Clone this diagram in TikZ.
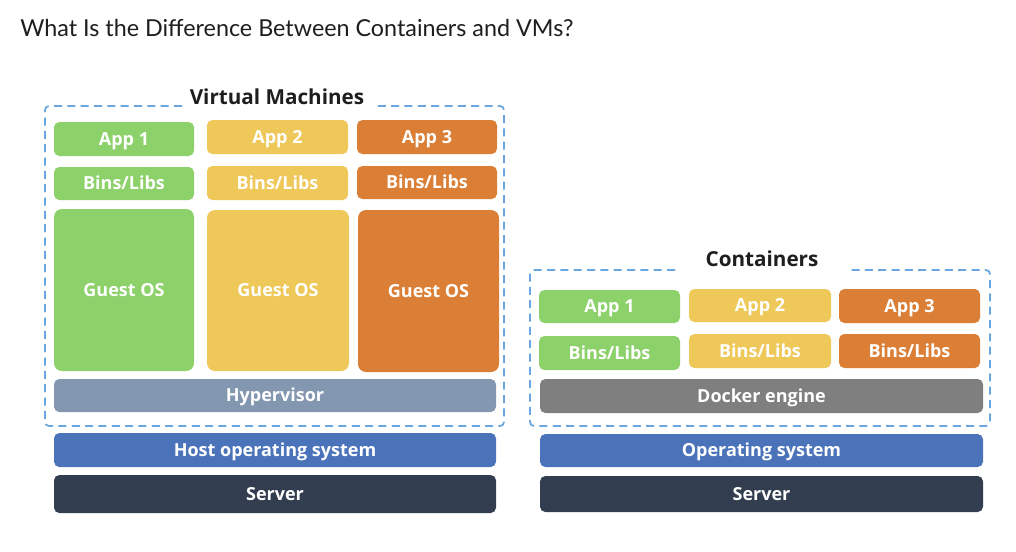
\documentclass[tikz,border=0pt]{standalone}
\usepackage{fontspec}
\setmainfont{Open Sans}
\newfontfamily\titlefont{Lato}
\definecolor{cgreen}{HTML}{8DD16B}
\definecolor{cyellow}{HTML}{EFC85A}
\definecolor{corange}{HTML}{DB7F36}
\definecolor{chyper}{HTML}{8497B0}
\definecolor{chost}{HTML}{4A73BA}
\definecolor{cserver}{HTML}{323E4F}
\definecolor{cdocker}{HTML}{7F7F7F}
\definecolor{cdash}{HTML}{6AA6E0}
\definecolor{ctitle}{HTML}{1E1E1E}
\newcommand\mkbox[8][4pt]{%
  \fill[#7,rounded corners=#1] (#3,#4) rectangle (#5,#6);
  \node[blk] (#2) at ({(#3+#5)/2},{(#4+#6)/2+2.5}) {#8};}
\begin{document}
\begin{tikzpicture}[x=0.75pt,y=-0.75pt,
  blk/.style={anchor=mid, inner sep=0pt, text=white, font=\bfseries\fontsize{13.5}{15}\selectfont},
  frame/.style={draw=cdash, line width=1.3pt, dash pattern=on 6pt off 4pt, rounded corners=3pt},
  head/.style={font=\bfseries\fontsize{15.5}{18}\selectfont, text=ctitle}]
\useasboundingbox[fill=white] (0,0) rectangle (1016,551);
\node[anchor=base west, font=\titlefont\fontsize{17.5}{20}\selectfont, text=ctitle, inner sep=0pt] (title) at (20,36) {What Is the Difference Between Containers and VMs?};
% VM frame
\draw[frame] (182,106) -- (45,106) -- (45,426) -- (504,426) -- (504,106) -- (375,106);
\node[head] (vmt) at (277,97) {Virtual Machines};
\mkbox{va1}{54}{122}{194}{156}{cgreen}{App 1}
\mkbox{va2}{207}{120}{348}{154}{cyellow}{App 2}
\mkbox{va3}{357}{120}{497}{154}{corange}{App 3}
\mkbox{vb1}{54}{167}{194}{200}{cgreen}{Bins/Libs}
\mkbox{vb2}{207}{166}{348}{200}{cyellow}{Bins/Libs}
\mkbox{vb3}{357}{166}{497}{199}{corange}{Bins/Libs}
\mkbox[6pt]{vg1}{54}{209}{194}{371}{cgreen}{Guest OS}
\mkbox[6pt]{vg2}{207}{210}{349}{371}{cyellow}{Guest OS}
\mkbox[6pt]{vg3}{358}{210}{499}{372}{corange}{Guest OS}
\mkbox{hyp}{54}{379}{496}{412}{chyper}{Hypervisor}
\mkbox{host}{54}{433}{496}{467}{chost}{Host operating system}
\mkbox{vsrv}{54}{475}{496}{513}{cserver}{Server}
% Containers frame
\draw[frame] (675,270) -- (530,270) -- (530,426) -- (990,426) -- (990,270) -- (850,270);
\node[head] (ct) at (762,259) {Containers};
\mkbox{ca1}{539}{290}{680}{323}{cgreen}{App 1}
\mkbox{ca2}{689}{289}{831}{322}{cyellow}{App 2}
\mkbox{ca3}{839}{289}{980}{323}{corange}{App 3}
\mkbox{cb1}{539}{336}{680}{370}{cgreen}{Bins/Libs}
\mkbox{cb2}{689}{334}{831}{368}{cyellow}{Bins/Libs}
\mkbox{cb3}{839}{334}{980}{368}{corange}{Bins/Libs}
\mkbox{dock}{540}{379}{983}{413}{cdocker}{Docker engine}
\mkbox{cos}{540}{434}{983}{467}{chost}{Operating system}
\mkbox{csrv}{540}{476}{983}{512}{cserver}{Server}
\end{tikzpicture}
\end{document}
